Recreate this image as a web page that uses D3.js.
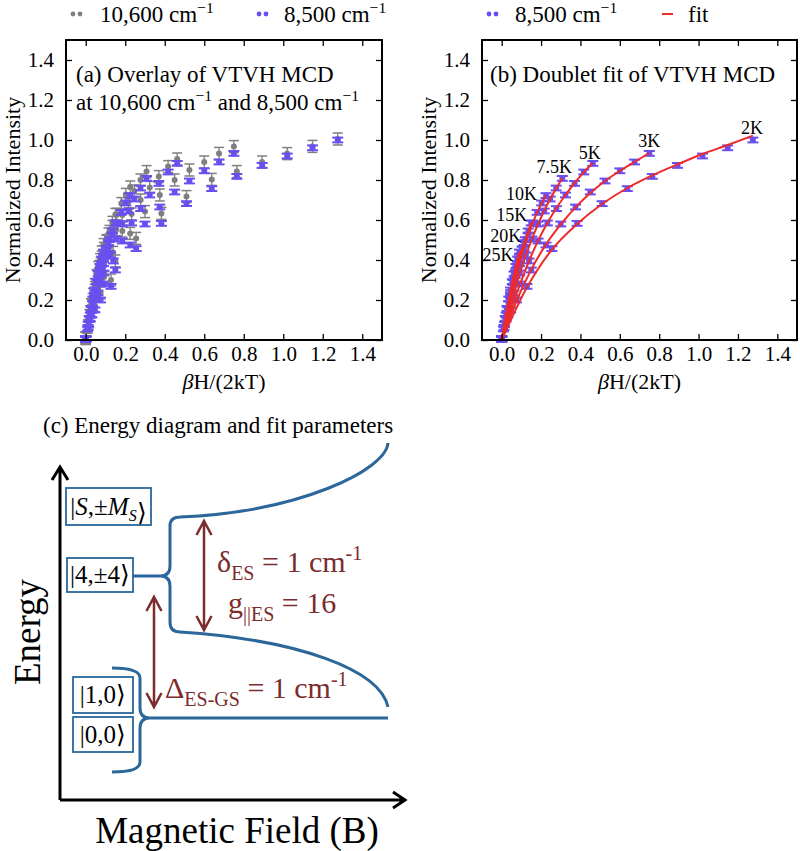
<!DOCTYPE html>
<html><head><meta charset="utf-8">
<script src="https://cdn.jsdelivr.net/npm/d3@7"></script>
<style>body{margin:0;background:#fff}svg{display:block}</style>
</head><body><svg id="c" width="800" height="851"></svg>
<script>
// ---------------- DATA ----------------
const temps = ["2K","3K","5K","7.5K","10K","15K","20K","25K"];
const xTickVals = [0,0.2,0.4,0.6,0.8,1.0,1.2,1.4];
const yTickVals = [0,0.2,0.4,0.6,0.8,1.0,1.2,1.4];
// βH/(2kT) of every measured point, one row per isotherm
const fieldX = [
 [0,0.128,0.255,0.383,0.510,0.638,0.765,0.893,1.020,1.148,1.276],
 [0,0.075,0.150,0.225,0.300,0.375,0.450,0.525,0.600,0.675,0.750],
 [0,0.046,0.093,0.139,0.185,0.232,0.278,0.324,0.370,0.417,0.463],
 [0,0.031,0.062,0.092,0.123,0.154,0.185,0.216,0.246,0.277,0.308],
 [0,0.023,0.045,0.068,0.090,0.113,0.135,0.158,0.180,0.203,0.225],
 [0,0.015,0.030,0.045,0.060,0.075,0.090,0.105,0.120,0.135,0.150],
 [0,0.012,0.023,0.035,0.046,0.058,0.069,0.081,0.092,0.104,0.115],
 [0,0.009,0.018,0.027,0.036,0.045,0.054,0.063,0.072,0.081,0.090]
];
const int8500 = [
 [0.004,0.268,0.457,0.583,0.682,0.757,0.818,0.873,0.920,0.961,1.000],
 [0.006,0.200,0.350,0.475,0.580,0.665,0.740,0.795,0.846,0.890,0.933],
 [0.003,0.150,0.280,0.395,0.495,0.585,0.657,0.725,0.783,0.840,0.883],
 [0.008,0.125,0.235,0.335,0.425,0.505,0.580,0.645,0.705,0.760,0.808],
 [0.005,0.105,0.205,0.298,0.382,0.458,0.525,0.585,0.638,0.685,0.722],
 [0.007,0.078,0.152,0.222,0.288,0.350,0.405,0.455,0.502,0.545,0.585],
 [0.004,0.063,0.125,0.182,0.237,0.288,0.335,0.380,0.420,0.455,0.487],
 [0.006,0.055,0.108,0.158,0.205,0.250,0.292,0.330,0.368,0.405,0.440]
];
const int10600 = [
 [0.010,0.300,0.508,0.633,0.717,0.803,0.842,0.890,0.932,0.968,1.005],
 [0.012,0.235,0.395,0.533,0.642,0.725,0.800,0.850,0.890,0.933,0.967],
 [0.008,0.172,0.315,0.438,0.545,0.630,0.700,0.763,0.817,0.867,0.905],
 [0.010,0.145,0.265,0.372,0.468,0.552,0.625,0.690,0.745,0.800,0.842],
 [0.009,0.122,0.232,0.332,0.420,0.498,0.568,0.628,0.682,0.728,0.765],
 [0.011,0.090,0.172,0.248,0.318,0.383,0.442,0.495,0.543,0.588,0.628],
 [0.008,0.072,0.140,0.203,0.262,0.318,0.368,0.415,0.458,0.495,0.530],
 [0.010,0.063,0.122,0.177,0.228,0.277,0.322,0.362,0.402,0.440,0.477]
];
const fitY = [
 [0,0.262,0.452,0.580,0.680,0.760,0.823,0.878,0.930,0.975,1.022],
 [0,0.195,0.352,0.478,0.578,0.663,0.735,0.795,0.845,0.890,0.935],
 [0,0.148,0.278,0.395,0.497,0.585,0.660,0.725,0.785,0.838,0.885],
 [0,0.122,0.232,0.333,0.424,0.506,0.580,0.646,0.705,0.758,0.810],
 [0,0.104,0.203,0.296,0.381,0.458,0.526,0.586,0.638,0.684,0.724],
 [0,0.077,0.150,0.220,0.287,0.349,0.405,0.456,0.502,0.545,0.586],
 [0,0.062,0.123,0.181,0.236,0.287,0.335,0.380,0.420,0.456,0.489],
 [0,0.054,0.107,0.157,0.204,0.250,0.292,0.331,0.368,0.405,0.441]
];
const err8500 = 0.012, err10600 = 0.03;

// ---------------- DRAW ----------------
const svg = d3.select("#c");
const serif = "'Liberation Serif'";
const blue = "#6a4ff0", gray = "#7f7f7f", red = "#ee2a2a";
const dkred = "#7b2c2c", steel = "#2b679b";

function makePanel(l, r, t, b) {
  const x = d3.scaleLinear([-0.1, 1.5], [l, r]);
  const y = d3.scaleLinear([0, 1.5], [b, t]);
  return {x, y, g: svg.append("g")};
}
function axes(p) {
  const {x, y, g} = p;
  const fmt = d3.format(".1f");
  const [x0, x1] = x.range(), [yb, yt] = y.range();
  const ag = g.append("g");
  ag.append("g").attr("transform", `translate(0,${yb})`).call(d3.axisBottom(x).tickValues(xTickVals).tickFormat(fmt).tickSizeInner(-6).tickSizeOuter(0).tickPadding(6));
  ag.append("g").attr("transform", `translate(0,${yt})`).call(d3.axisTop(x).tickValues(xTickVals).tickFormat("").tickSizeInner(-6).tickSizeOuter(0));
  ag.append("g").attr("transform", `translate(${x0},0)`).call(d3.axisLeft(y).tickValues(yTickVals).tickFormat(fmt).tickSizeInner(-6).tickSizeOuter(0).tickPadding(12));
  ag.append("g").attr("transform", `translate(${x1},0)`).call(d3.axisRight(y).tickValues(yTickVals).tickFormat("").tickSizeInner(-6).tickSizeOuter(0));
  ag.selectAll(".domain").remove();
  ag.selectAll(".tick line").attr("stroke", "#000").attr("stroke-width", 1.3);
  ag.selectAll(".tick text").style("font-family", serif).attr("font-size", 21).attr("fill", "#000");
  ag.append("rect").attr("x", x0).attr("y", yt).attr("width", x1 - x0).attr("height", yb - yt)
    .attr("fill", "none").attr("stroke", "#000").attr("stroke-width", 2);
  const xl = g.append("text").attr("x", (x0 + x1) / 2).attr("y", yb + 49).attr("text-anchor", "middle")
    .style("font-family", serif).attr("font-size", 22);
  xl.append("tspan").attr("font-style", "italic").text("β");
  xl.append("tspan").text("H/(2kT)");
  g.append("text").attr("transform", `translate(${x0 - 46},${(yb + yt) / 2}) rotate(-90)`).attr("text-anchor", "middle")
    .style("font-family", serif).attr("font-size", 22).text("Normalized Intensity");
}
function errPoints(p, ys, color, err, capW, r, sw) {
  const pts = fieldX.flatMap((row, i) => row.map((v, j) => ({x: v, y: ys[i][j]})));
  const g = p.g.append("g").attr("stroke", color).attr("fill", color);
  const s = g.selectAll("g").data(pts).join("g");
  s.append("line").attr("x1", d => p.x(d.x)).attr("x2", d => p.x(d.x))
    .attr("y1", d => p.y(d.y - err)).attr("y2", d => p.y(d.y + err)).attr("stroke-width", 1.3);
  [-1, 1].forEach(k => s.append("line").attr("x1", d => p.x(d.x) - capW).attr("x2", d => p.x(d.x) + capW)
    .attr("y1", d => p.y(d.y + k * err)).attr("y2", d => p.y(d.y + k * err)).attr("stroke-width", sw));
  s.append("circle").attr("cx", d => p.x(d.x)).attr("cy", d => p.y(d.y)).attr("r", r).attr("stroke", "none");
}
function supText(t, parts) {
  let up = false;
  parts.forEach(([s, sup]) => {
    const ts = t.append("tspan").text(s);
    if (sup && !up) { ts.attr("dy", -9).attr("font-size", "0.68em"); up = true; }
    else if (sup) { ts.attr("font-size", "0.68em"); }
    else if (up) { ts.attr("dy", 9); up = false; }
  });
}
function txt(x, y, size, anchor) {
  return svg.append("text").attr("x", x).attr("y", y).style("font-family", serif)
    .attr("font-size", size).attr("text-anchor", anchor || "start").attr("fill", "#000");
}

// ---- Panel (a)
const pa = makePanel(66, 382, 40, 340);
errPoints(pa, int10600, gray, err10600, 5, 3, 1.5);
errPoints(pa, int8500, blue, err8500, 5.5, 3, 2);
axes(pa);
supText(txt(76, 82, 23), [["(a) Overlay of VTVH MCD", false]]);
supText(txt(76, 110, 23), [["at 10,600 cm", false], ["−1", true], [" and 8,500 cm", false], ["−1", true]]);

// ---- Panel (b)
const pb = makePanel(482, 797, 40, 340);
errPoints(pb, int8500, blue, err8500, 5.5, 3, 2);
const line = d3.line().x(d => pb.x(d[0])).y(d => pb.y(d[1])).curve(d3.curveMonotoneX);
fieldX.forEach((row, i) => {
  pb.g.append("path").attr("d", line(row.map((v, j) => [v, fitY[i][j]])))
    .attr("fill", "none").attr("stroke", red).attr("stroke-width", 2);
});
axes(pb);
fieldX.forEach((row, i) => {
  const n = row.length - 1;
  const px = pb.x(row[n]), py = pb.y(fitY[i][n]);
  const labOff = [[-1, -2, "middle"], [0, -6, "middle"], [-3, -4, "middle"], [-8, -5, "middle"],
                  [-9, 5, "end"], [-4, -2, "end"], [-3, 0, "end"], [-6, 9, "end"]][i];
  txt(px + labOff[0], py + labOff[1], 18, labOff[2]).text(temps[i]);
});
supText(txt(490, 82, 23), [["(b) Doublet fit of VTVH MCD", false]]);

// ---- Legends
function dots(x, y, c) {
  [0, 7].forEach(dx => svg.append("circle").attr("cx", x + dx).attr("cy", y).attr("r", 2.4).attr("fill", c));
}
dots(73, 14, gray); supText(txt(100, 22, 23), [["10,600 cm", false], ["−1", true]]);
dots(259, 14, blue); supText(txt(284, 22, 23), [["8,500 cm", false], ["−1", true]]);
dots(489, 14, blue); supText(txt(515, 22, 23), [["8,500 cm", false], ["−1", true]]);
svg.append("line").attr("x1", 662).attr("x2", 673).attr("y1", 14).attr("y2", 14).attr("stroke", red).attr("stroke-width", 2);
txt(688, 22, 23).text("fit");

// ---- Panel (c) energy diagram (schematic units: field u, energy v)
const xD = d3.scaleLinear([0, 345], [60, 405]);
const yD = d3.scaleLinear([0, 335], [800, 465]);
function pth(cmds) {
  const p = d3.path();
  cmds.forEach(([op, ...a]) => {
    const s = [];
    for (let i = 0; i < a.length; i += 2) s.push(xD(a[i]), yD(a[i + 1]));
    p[op](...s);
  });
  return p.toString();
}
const cg = svg.append("g");
txt(43, 433, 23).text("(c) Energy diagram and fit parameters");
cg.append("path").attr("d", pth([["moveTo", 0, 0], ["lineTo", 0, 333], ["moveTo", -8, 320], ["lineTo", 0, 333], ["lineTo", 8, 320],
  ["moveTo", 0, 0], ["lineTo", 345, 0], ["moveTo", 333, 8], ["lineTo", 345, 0], ["lineTo", 333, -8]]))
  .attr("fill", "none").attr("stroke", "#000").attr("stroke-width", 3).attr("stroke-linejoin", "miter");
svg.append("text").attr("transform", `translate(${xD(-20)},${yD(168)}) rotate(-90)`).attr("text-anchor", "middle")
  .style("font-family", serif).attr("font-size", 37).text("Energy");
txt(xD(177), 843, 37, "middle").text("Magnetic Field (B)");
cg.append("path").attr("d", pth([
  ["moveTo", 328, 357], ["bezierCurveTo", 326, 330, 240, 288, 120, 283], ["quadraticCurveTo", 110, 283, 110, 274],
  ["lineTo", 110, 234], ["quadraticCurveTo", 110, 224, 100, 224], ["quadraticCurveTo", 110, 224, 110, 214],
  ["lineTo", 110, 178], ["quadraticCurveTo", 110, 168, 120, 168], ["bezierCurveTo", 240, 160, 320, 130, 328, 93],
  ["moveTo", 73, 224], ["lineTo", 100, 224],
  ["moveTo", 52, 132], ["quadraticCurveTo", 80, 132, 80, 122], ["lineTo", 80, 92], ["quadraticCurveTo", 80, 82, 90, 82],
  ["lineTo", 328, 82], ["moveTo", 90, 82], ["quadraticCurveTo", 80, 82, 80, 72], ["lineTo", 80, 38],
  ["quadraticCurveTo", 80, 28, 52, 28]
])).attr("fill", "none").attr("stroke", steel).attr("stroke-width", 3);
function ket(u0, u1, vTop, vBot, parts) {
  cg.append("rect").attr("x", xD(u0)).attr("y", yD(vTop)).attr("width", xD(u1) - xD(u0)).attr("height", yD(vBot) - yD(vTop))
    .attr("fill", "#fff").attr("stroke", steel).attr("stroke-width", 1.8);
  const t = txt((xD(u0) + xD(u1)) / 2, (yD(vTop) + yD(vBot)) / 2 + 8, 25, "middle");
  parts.forEach(([s, it, sub]) => {
    const ts = t.append("tspan").text(s);
    if (it) ts.attr("font-style", "italic");
    if (sub) ts.attr("font-size", 16).attr("dy", 6);
  });
}
ket(6, 91, 312, 275, [["|", 0], ["S", 1], [",±", 0], ["M", 1], ["S", 1, 1], ["⟩", 0]]);
ket(7, 73, 242, 208, [["|4,±4⟩", 0]]);
ket(13, 73, 123, 87, [["|1,0⟩", 0]]);
ket(13, 73, 83, 48, [["|0,0⟩", 0]]);
function dArrow(u, v0, v1) {
  cg.append("path").attr("d", pth([["moveTo", u, v0], ["lineTo", u, v1],
    ["moveTo", u - 7.5, v0 - 14], ["lineTo", u, v0], ["lineTo", u + 7.5, v0 - 14],
    ["moveTo", u - 7.5, v1 + 14], ["lineTo", u, v1], ["lineTo", u + 7.5, v1 + 14]]))
    .attr("fill", "none").attr("stroke", dkred).attr("stroke-width", 2.5);
}
dArrow(144, 279, 170);
dArrow(94, 203, 93);
function redText(u, v, parts) {
  const t = txt(xD(u), yD(v), 30).attr("fill", dkred);
  let shift = 0;
  parts.forEach(([s, mode]) => {
    const ts = t.append("tspan").text(s);
    const target = mode === "sub" ? 8 : mode === "sup" ? -12 : 0;
    if (target !== shift) { ts.attr("dy", target - shift); shift = target; }
    if (mode) ts.attr("font-size", 20);
  });
}
redText(157, 228, [["δ", null], ["ES", "sub"], [" = 1 cm", null], ["-1", "sup"]]);
redText(168, 187, [["g", null], ["||ES", "sub"], [" = 16", null]]);
redText(105, 102, [["Δ", null], ["ES-GS", "sub"], [" = 1 cm", null], ["-1", "sup"]]);
</script></body></html>
